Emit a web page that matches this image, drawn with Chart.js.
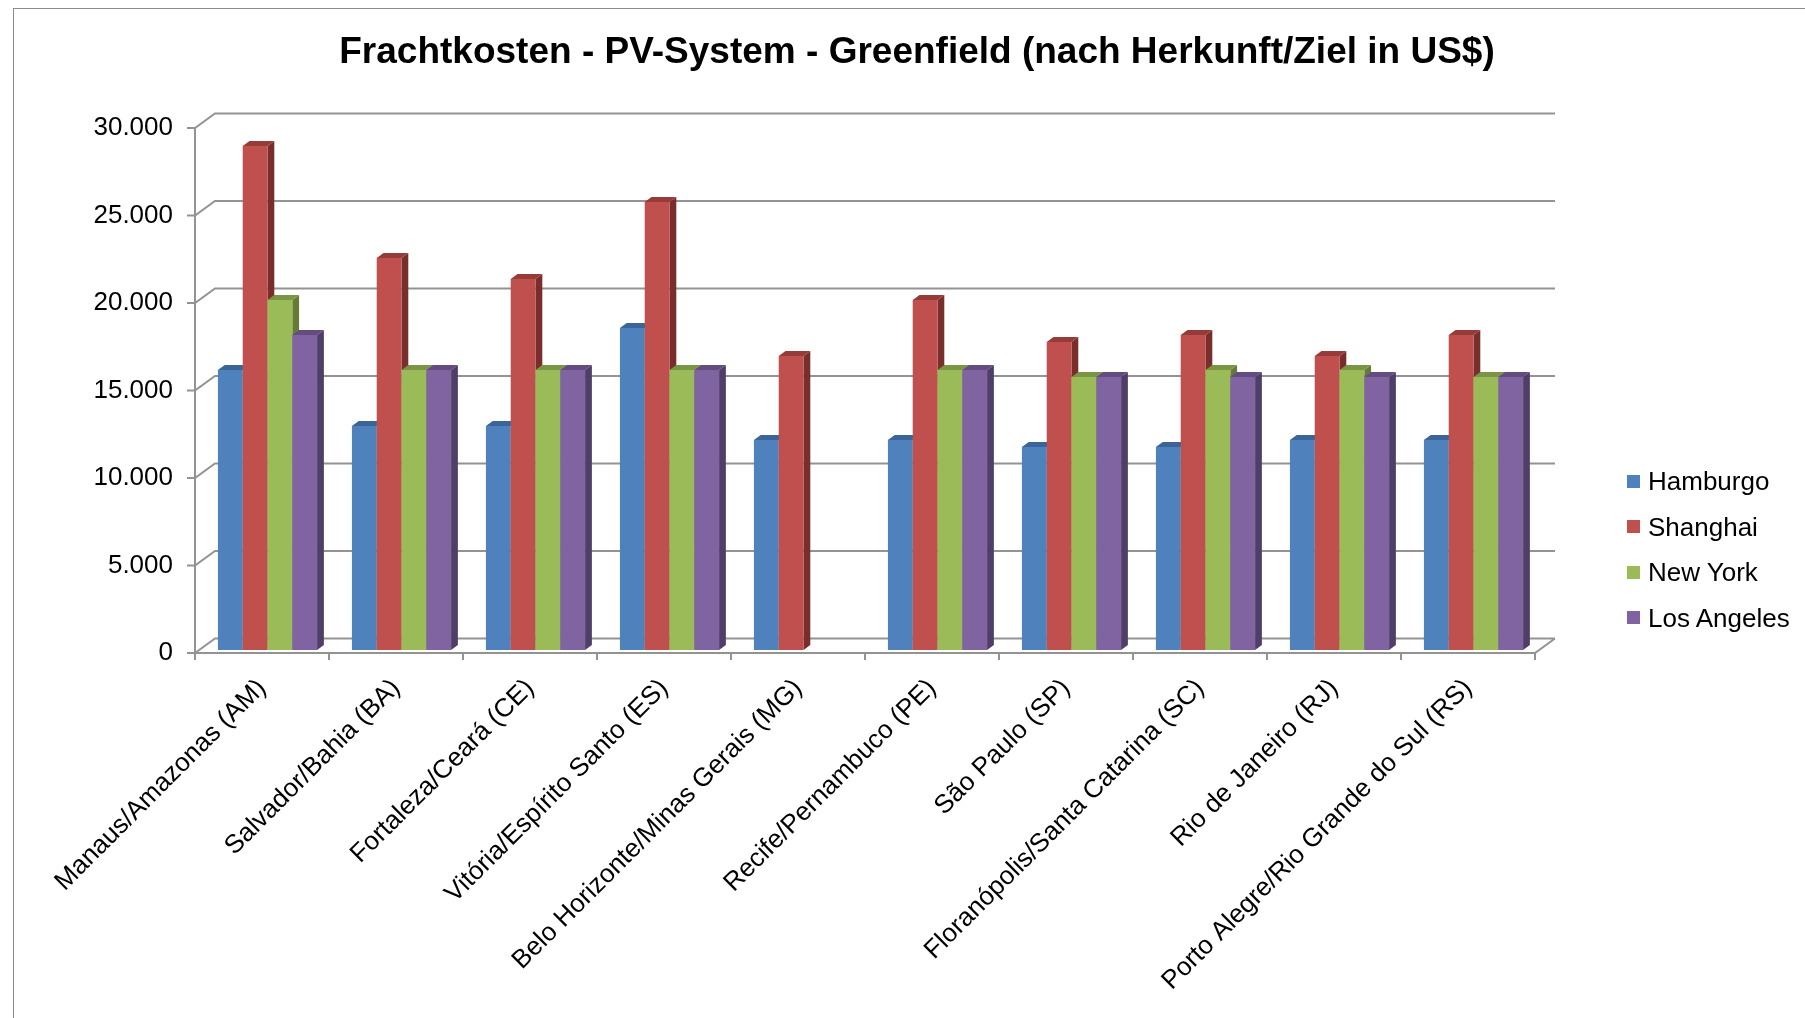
<!DOCTYPE html>
<html>
<head>
<meta charset="utf-8">
<title>Frachtkosten</title>
<script src="https://cdn.jsdelivr.net/npm/chart.js@4.4.1/dist/chart.umd.min.js"></script>
<style>
  html, body { margin: 0; padding: 0; background: #fff; overflow: hidden; }
  body { width: 1805px; height: 1018px; position: relative; }
  .frame { position: absolute; left: 13px; top: 8px; width: 1830px; height: 1040px; border: 1px solid #8c8c8c; }
  #chart { position: absolute; left: 14px; top: 9px; }
  .legend { position: absolute; left: 1627px; top: 0; font: 26px "Liberation Sans", Arial, sans-serif; color: #000; }
  .legend .item { position: absolute; left: 0; height: 30px; line-height: 30px; white-space: nowrap; display: flex; align-items: center; }
  .legend .box { display: inline-block; width: 13px; height: 13px; margin-right: 8px; }
</style>
</head>
<body>
<div class="frame"></div>
<canvas id="chart" width="1806" height="1009"></canvas>
<div class="legend" id="legend"></div>
<script>
const categories = [
    'Manaus/Amazonas (AM)',
    'Salvador/Bahia (BA)',
    'Fortaleza/Ceará (CE)',
    'Vitória/Espírito Santo (ES)',
    'Belo Horizonte/Minas Gerais (MG)',
    'Recife/Pernambuco (PE)',
    'São Paulo (SP)',
    'Floranópolis/Santa Catarina (SC)',
    'Rio de Janeiro (RJ)',
    'Porto Alegre/Rio Grande do Sul (RS)'
];
const seriesNames = ['Hamburgo', 'Shanghai', 'New York', 'Los Angeles'];
const hamburgo = [16000, 12800, 12800, 18400, 12000, 12000, 11600, 11600, 12000, 12000];
const shanghai = [28800, 22400, 21200, 25600, 16800, 20000, 17600, 18000, 16800, 18000];
const newYork = [20000, 16000, 16000, 16000, null, 16000, 15600, 16000, 16000, 15600];
const losAngeles = [18000, 16000, 16000, 16000, null, 16000, 15600, 15600, 15600, 15600];
const yTicks = [0, 5000, 10000, 15000, 20000, 25000, 30000];

const frontColors = ['#4F81BD', '#C0504D', '#9BBB59', '#8064A2'];
const topColors = ['#3B6499', '#973B39', '#7A9644', '#634D80'];
const sideColors = ['#2F5080', '#7A2E2C', '#647C36', '#4F3E68'];

// fake 3D: offsets of the back wall, the bar plane and the bar depth
const BACK = { dx: 20, dy: -14.5 };
const PLANE = { dx: 5.5, dy: -3 };
const DEPTH = { dx: 6.8, dy: -5 };

const fmt = v => String(v).replace(/\B(?=(\d{3})+(?!\d))/g, '.');

function poly(ctx, color, pts) {
    ctx.fillStyle = color;
    ctx.beginPath();
    ctx.moveTo(pts[0][0], pts[0][1]);
    for (let k = 1; k < pts.length; k++) ctx.lineTo(pts[k][0], pts[k][1]);
    ctx.closePath();
    ctx.fill();
}

const box3d = {
    id: 'box3d',
    beforeDatasetsDraw(chart) {
        const { ctx, chartArea: a, scales: { x, y } } = chart;
        ctx.save();

        // walls, floor and axes
        ctx.strokeStyle = '#939393';
        ctx.lineWidth = 2;
        ctx.beginPath();
        yTicks.forEach(v => {
            const py = y.getPixelForValue(v);
            ctx.moveTo(a.left - 8, py);
            ctx.lineTo(a.left, py);
            ctx.lineTo(a.left + BACK.dx, py + BACK.dy);
            ctx.lineTo(a.right + BACK.dx, py + BACK.dy);
        });
        ctx.moveTo(a.left, a.top);
        ctx.lineTo(a.left, a.bottom);
        ctx.lineTo(a.right, a.bottom);
        ctx.lineTo(a.right + BACK.dx, a.bottom + BACK.dy);
        for (let i = 0; i <= categories.length; i++) {
            const px = x.getPixelForValue(i - 0.5);
            ctx.moveTo(px, a.bottom);
            ctx.lineTo(px, a.bottom + 7);
        }
        ctx.stroke();

        // bars, left to right: side, top, front
        categories.forEach((c, j) => {
            chart.data.datasets.forEach((ds, i) => {
                if (ds.data[j] == null) return;
                const bar = chart.getDatasetMeta(i).data[j];
                const l = bar.x - bar.width / 2 + PLANE.dx;
                const r = bar.x + bar.width / 2 + PLANE.dx;
                const t = bar.y + PLANE.dy;
                const b = bar.base + PLANE.dy;
                poly(ctx, sideColors[i], [[r, t], [r + DEPTH.dx, t + DEPTH.dy], [r + DEPTH.dx, b + DEPTH.dy], [r, b]]);
                poly(ctx, topColors[i], [[l, t], [l + DEPTH.dx, t + DEPTH.dy], [r + DEPTH.dx, t + DEPTH.dy], [r, t]]);
                ctx.fillStyle = frontColors[i];
                ctx.fillRect(l, t, r - l, b - t);
            });
        });
        ctx.restore();
        return false;
    }
};

const font = 'Liberation Sans';
const values = [hamburgo, shanghai, newYork, losAngeles];

new Chart(document.getElementById('chart'), {
    type: 'bar',
    data: {
        labels: categories,
        datasets: seriesNames.map((name, i) => ({
            label: name,
            data: values[i],
            backgroundColor: frontColors[i]
        }))
    },
    options: {
        responsive: false,
        animation: false,
        layout: { padding: 0 },
        datasets: { bar: { categoryPercentage: 0.74, barPercentage: 1 } },
        plugins: {
            legend: { display: false },
            tooltip: { enabled: false },
            title: {
                display: true,
                text: 'Frachtkosten - PV-System - Greenfield (nach Herkunft/Ziel in US$)',
                color: '#000',
                font: { family: font, size: 37, weight: 'bold' },
                padding: { top: 22, bottom: 52.6 }
            }
        },
        scales: {
            x: {
                grid: { display: false, drawTicks: false },
                border: { display: false },
                ticks: {
                    color: '#000',
                    font: { family: font, size: 26 },
                    minRotation: 45,
                    maxRotation: 45,
                    autoSkip: false,
                    padding: 20
                },
                afterFit(s) { s.height = 365; }
            },
            y: {
                min: 0,
                max: 30000,
                grid: { display: false, drawTicks: false },
                border: { display: false },
                ticks: {
                    stepSize: 5000,
                    color: '#000',
                    font: { family: font, size: 26 },
                    padding: 22,
                    callback: v => fmt(v)
                },
                afterFit(s) { s.width = 181; }
            },
            // empty right axis, only keeps room for the legend so the title stays centred on the page
            legendSpace: {
                display: true,
                position: 'right',
                grid: { display: false, drawTicks: false },
                border: { display: false },
                ticks: { display: false },
                afterFit(s) { s.width = 285; }
            }
        }
    },
    plugins: [box3d]
});

// legend on the right, as in the excel chart
const legend = document.getElementById('legend');
seriesNames.forEach((name, i) => {
    const item = document.createElement('div');
    item.className = 'item';
    item.style.top = (466 + i * 45.5) + 'px';
    const box = document.createElement('span');
    box.className = 'box';
    box.style.background = frontColors[i];
    item.appendChild(box);
    item.appendChild(document.createTextNode(name));
    legend.appendChild(item);
});
</script>
</body>
</html>
